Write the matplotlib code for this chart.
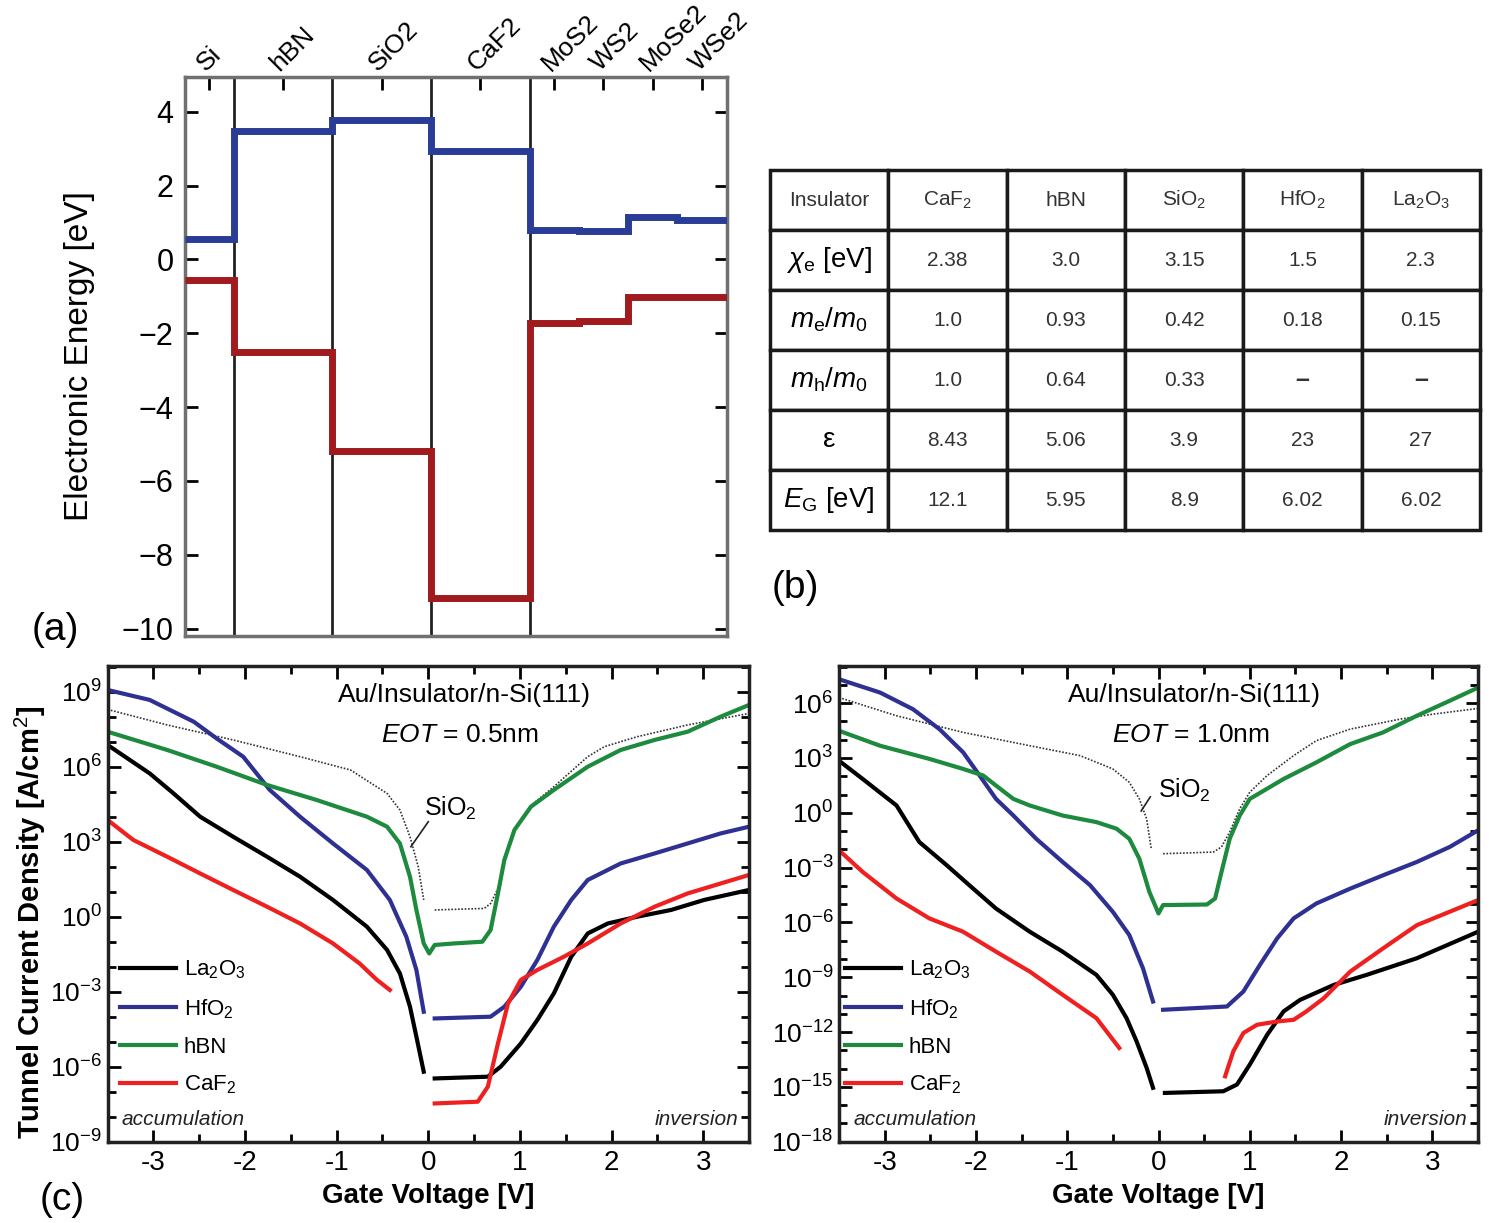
import numpy as np
import matplotlib
matplotlib.use('Agg')
import matplotlib.pyplot as plt
import matplotlib.transforms as mtransforms
from matplotlib.ticker import FixedLocator, NullFormatter, FuncFormatter

plt.rcParams['font.family'] = ['Liberation Sans', 'DejaVu Sans']
plt.rcParams['mathtext.fontset'] = 'custom'
plt.rcParams['mathtext.rm'] = 'Liberation Sans'
plt.rcParams['mathtext.it'] = 'Liberation Sans:italic'
plt.rcParams['mathtext.bf'] = 'Liberation Sans:bold'

# ---- (a) band alignment ----
layers = ['Si', 'hBN', 'SiO2', 'CaF2', 'MoS2', 'WS2', 'MoSe2', 'WSe2']
layer_edges = [0, 1, 3, 5, 7, 8, 9, 10, 11]
cb = [0.55, 3.48, 3.77, 2.93, 0.79, 0.77, 1.15, 1.06]
vb = [-0.56, -2.50, -5.20, -9.16, -1.71, -1.66, -1.03, -1.01]

# ---- (b) table ----
tbl_cols = ['Insulator', 'CaF$_2$', 'hBN', 'SiO$_2$', 'HfO$_2$', 'La$_2$O$_3$']
tbl_rows = [r'$\chi_\mathrm{e}$ [eV]', r'$m_\mathrm{e}/m_0$', r'$m_\mathrm{h}/m_0$',
            'ε', r'$E_\mathrm{G}$ [eV]']
chi_e = ['2.38', '3.0', '3.15', '1.5', '2.3']
me_m0 = ['1.0', '0.93', '0.42', '0.18', '0.15']
mh_m0 = ['1.0', '0.64', '0.33', '–', '–']
eps = ['8.43', '5.06', '3.9', '23', '27']
eg = ['12.1', '5.95', '8.9', '6.02', '6.02']

# ---- (c) tunnel current, log10(J) vs gate voltage ----
nan = np.nan
# EOT = 0.5 nm
v05_la = [-3.5, -3.04, -2.78, -2.49, -2.13, -1.76, -1.4, -1.04, -0.67, -0.45, -0.31, -0.2, -0.13, -0.05, nan,
          0.07, 0.65, 0.79, 1.01, 1.19, 1.37, 1.56, 1.74, 1.96, 2.28, 2.65, 3.01, 3.5]
j05_la = [6.87, 5.73, 4.93, 4.0, 3.2, 2.4, 1.6, 0.67, -0.4, -1.33, -2.27, -3.6, -4.8, -6.2, nan,
          -6.47, -6.4, -6.0, -5.07, -4.13, -3.07, -1.6, -0.67, -0.27, 0.0, 0.27, 0.67, 1.07]
v05_hf = [-3.5, -3.04, -2.56, -2.31, -2.02, -1.73, -1.4, -1.04, -0.67, -0.42, -0.24, -0.13, -0.05, nan,
          0.07, 0.68, 0.83, 1.01, 1.19, 1.37, 1.56, 1.74, 2.1, 2.47, 2.83, 3.19, 3.5]
j05_hf = [9.07, 8.67, 7.8, 7.13, 6.4, 5.07, 4.0, 2.93, 1.87, 0.67, -0.8, -2.13, -3.8, nan,
          -4.07, -4.0, -3.6, -2.8, -1.73, -0.4, 0.67, 1.47, 2.13, 2.53, 2.93, 3.33, 3.6]
v05_bn = [-3.5, -2.85, -2.31, -1.76, -1.22, -0.67, -0.45, -0.31, -0.2, -0.13, -0.05, 0.01, 0.07, 0.28,
          0.59, 0.68, 0.76, 0.83, 0.94, 1.12, 1.37, 1.74, 2.1, 2.47, 2.83, 3.19, 3.5]
j05_bn = [7.4, 6.67, 6.0, 5.27, 4.67, 4.0, 3.6, 2.93, 1.6, 0.27, -1.07, -1.47, -1.13, -1.07,
          -1.0, -0.53, 0.93, 2.27, 3.47, 4.4, 5.07, 6.0, 6.67, 7.07, 7.4, 8.0, 8.47]
v05_ca = [-3.5, -3.22, -2.85, -2.49, -2.13, -1.76, -1.4, -1.04, -0.75, -0.56, -0.42, nan,
          0.07, 0.54, 0.65, 0.76, 0.87, 1.01, 1.19, 1.48, 1.74, 2.1, 2.47, 2.83, 3.5]
j05_ca = [3.87, 3.07, 2.4, 1.73, 1.07, 0.4, -0.27, -1.07, -1.87, -2.53, -2.93, nan,
          -7.47, -7.4, -6.8, -5.07, -3.47, -2.53, -2.13, -1.6, -1.07, -0.27, 0.4, 0.93, 1.67]
v05_si = [-3.5, -2.85, -2.13, -1.4, -0.85, -0.45, -0.31, -0.2, -0.11, -0.05, nan,
          0.07, 0.61, 0.68, 0.77, 0.87, 0.98, 1.12, 1.37, 1.74, 1.92, 2.28, 2.83, 3.5]
j05_si = [8.29, 7.67, 7.07, 6.4, 5.87, 4.93, 4.27, 3.2, 2.0, 0.67, nan,
          0.27, 0.33, 0.53, 1.2, 2.8, 3.7, 4.45, 5.2, 6.4, 6.8, 7.2, 7.67, 8.13]

# EOT = 1.0 nm
v10_la = [-3.5, -3.24, -2.87, -2.62, -2.32, -2.03, -1.78, -1.41, -1.05, -0.68, -0.5, -0.35, -0.24, -0.13, -0.06, nan,
          0.07, 0.71, 0.86, 1.0, 1.19, 1.37, 1.55, 1.92, 2.28, 2.83, 3.5]
j10_la = [2.85, 1.85, 0.4, -1.6, -2.87, -4.15, -5.24, -6.51, -7.6, -8.87, -9.96, -11.24, -12.51, -13.96, -15.05, nan,
          -15.33, -15.24, -14.87, -13.78, -12.15, -10.87, -10.24, -9.42, -8.87, -7.96, -6.51]
v10_hf = [-3.5, -3.05, -2.69, -2.4, -2.14, -1.96, -1.78, -1.59, -1.34, -1.05, -0.75, -0.5, -0.32, -0.17, -0.06, nan,
          0.05, 0.75, 0.93, 1.11, 1.3, 1.48, 1.73, 2.1, 2.46, 2.83, 3.19, 3.5]
j10_hf = [7.31, 6.58, 5.67, 4.58, 3.31, 2.04, 0.76, -0.15, -1.42, -2.69, -3.96, -5.42, -6.69, -8.51, -10.33, nan,
          -10.78, -10.6, -9.78, -8.33, -6.87, -5.78, -4.96, -4.15, -3.42, -2.69, -1.87, -0.96]
v10_bn = [-3.5, -3.05, -2.51, -2.14, -1.92, -1.78, -1.59, -1.41, -1.05, -0.68, -0.46, -0.32, -0.21, -0.1, 0.0,
          0.05, 0.53, 0.62, 0.69, 0.78, 0.89, 1.0, 1.37, 1.73, 2.1, 2.46, 2.83, 3.19, 3.5]
j10_bn = [4.49, 3.67, 2.95, 2.4, 2.04, 1.49, 0.76, 0.4, -0.15, -0.51, -0.87, -1.42, -2.51, -4.33, -5.51,
          -5.05, -5.02, -4.69, -3.24, -1.42, -0.15, 0.76, 1.85, 2.76, 3.76, 4.4, 5.31, 6.13, 6.85]
v10_ca = [-3.5, -3.24, -2.87, -2.51, -2.14, -1.78, -1.41, -1.05, -0.68, -0.43, nan,
          0.73, 0.82, 0.93, 1.08, 1.3, 1.48, 1.62, 1.81, 2.1, 2.46, 2.83, 3.5]
j10_ca = [-2.05, -3.24, -4.69, -5.78, -6.51, -7.6, -8.69, -9.96, -11.24, -12.87, nan,
          -14.42, -13.05, -12.05, -11.6, -11.42, -11.33, -10.87, -10.15, -8.69, -7.42, -6.15, -4.78]
v10_si = [-3.5, -2.87, -2.14, -1.41, -0.86, -0.5, -0.32, -0.21, -0.13, -0.08, nan,
          0.05, 0.6, 0.69, 0.78, 0.89, 1.0, 1.19, 1.48, 1.73, 2.1, 2.65, 3.01, 3.5]
j10_si = [6.31, 5.31, 4.4, 3.67, 3.13, 2.4, 1.67, 0.76, -0.33, -1.96, nan,
          -2.24, -2.15, -1.87, -1.05, 0.22, 1.13, 2.04, 3.13, 3.95, 4.58, 5.13, 5.4, 5.71]

c_blue = '#2e3192'
c_green = '#1d8a3e'
c_red = '#ee2020'

W, H = 1496, 1223
fig = plt.figure(figsize=(W / 100, H / 100), dpi=100)


def box(x0, y0, x1, y1):
    return [x0 / W, 1 - y1 / H, (x1 - x0) / W, (y1 - y0) / H]


# ================= (a) =================
ax = fig.add_axes(box(184.5, 76.7, 726.7, 636))
for x in layer_edges[1:5]:
    ax.axvline(x, color='#222222', lw=2.0, zorder=1)
ax.stairs(cb, layer_edges, baseline=None, color='#2a3d96', lw=5, zorder=3)
ax.stairs(vb, layer_edges, baseline=None, color='#a01a1e', lw=5, zorder=3)
ax.set_xlim(layer_edges[0], layer_edges[-1])
ax.set_ylim(-10.2, 4.95)
centers = [(a + b) / 2 for a, b in zip(layer_edges[:-1], layer_edges[1:])]
ax.xaxis.tick_top()
ax.set_xticks(centers)
ax.set_xticklabels(layers, rotation=45, ha='left', va='bottom', rotation_mode='anchor', fontsize=19)
shift = mtransforms.ScaledTranslation(-9 / 100, -2 / 100, fig.dpi_scale_trans)
for lab in ax.get_xticklabels():
    lab.set_transform(lab.get_transform() + shift)
ax.set_yticks([4, 2, 0, -2, -4, -6, -8, -10])
ax.tick_params(axis='y', direction='in', left=True, right=True, length=9, width=2, labelsize=22, pad=8)
ax.tick_params(axis='x', direction='in', top=True, bottom=False, length=9, width=2, pad=1)
for s in ax.spines.values():
    s.set_color('#707070')
    s.set_linewidth(2.5)
ax.set_ylabel('Electronic Energy [eV]', fontsize=24)
ax.yaxis.set_label_coords(-0.165, 0.5)

# ================= (b) =================
axt = fig.add_axes(box(770, 170, 1480, 530))
axt.axis('off')
cell_text = [tbl_cols] + [[lab] + vals for lab, vals in zip(tbl_rows, [chi_e, me_m0, mh_m0, eps, eg])]
tb = axt.table(cellText=cell_text, bbox=[0, 0, 1, 1], cellLoc='center')
tb.auto_set_font_size(False)
for (r, c), cell in tb.get_celld().items():
    cell.set_linewidth(2.5)
    cell.set_edgecolor('#1a1a1a')
    txt = cell.get_text()
    if r == 0:
        txt.set_fontsize(15)
        txt.set_color('#333333')
    elif c == 0:
        txt.set_fontsize(20)
    else:
        txt.set_fontsize(15)
        txt.set_color('#333333')
        if txt.get_text() == '–':
            txt.set_fontweight('bold')
            txt.set_fontsize(18)

# ================= (c) =================
curves05 = [(v05_la, j05_la, 'k', 'La$_2$O$_3$'), (v05_hf, j05_hf, c_blue, 'HfO$_2$'),
            (v05_bn, j05_bn, c_green, 'hBN'), (v05_ca, j05_ca, c_red, 'CaF$_2$')]
curves10 = [(v10_la, j10_la, 'k', 'La$_2$O$_3$'), (v10_hf, j10_hf, c_blue, 'HfO$_2$'),
            (v10_bn, j10_bn, c_green, 'hBN'), (v10_ca, j10_ca, c_red, 'CaF$_2$')]


def log_panel(rect, curves, sio2, ylim, eot, sio2_txt, sio2_line, leg_x):
    ax = fig.add_axes(rect)
    ax.set_yscale('log')
    ax.plot(sio2[0], 10 ** np.array(sio2[1]), color='#333333', lw=1.2, ls=(0, (1, 1)))
    for v, j, col, lab in curves:
        ax.plot(v, 10 ** np.array(j), color=col, lw=3, label=lab)
    ax.set_xlim(-3.5, 3.5)
    ax.set_ylim(10.0 ** ylim[0], 10.0 ** ylim[1])
    ax.set_xticks([-3, -2, -1, 0, 1, 2, 3])
    ax.set_xticklabels(['-3', '-2', '-1', '0', '1', '2', '3'])
    ax.xaxis.set_minor_locator(FixedLocator(np.arange(-3.5, 3.6, 0.5)))
    major = [10.0 ** k for k in range(int(np.ceil(ylim[0] / 3) * 3), int(ylim[1]) + 1, 3)]
    ax.yaxis.set_major_locator(FixedLocator(major))
    ax.yaxis.set_major_formatter(FuncFormatter(lambda y, p: r'$10^{%d}$' % round(np.log10(y))))
    ax.yaxis.set_minor_locator(FixedLocator([10.0 ** k for k in range(ylim[0], int(ylim[1]) + 1)]))
    ax.yaxis.set_minor_formatter(NullFormatter())
    ax.tick_params(which='both', direction='in', top=True, right=True, width=2)
    ax.tick_params(which='major', length=9, labelsize=20, pad=6)
    ax.tick_params(axis='y', which='major', labelsize=19, pad=4)
    ax.tick_params(which='minor', length=6)
    for s in ax.spines.values():
        s.set_linewidth(2.5)
        s.set_color('#222222')
    ax.set_xlabel('Gate Voltage [V]', fontsize=20, fontweight='bold')
    ax.xaxis.set_label_coords(0.5, -0.087)
    ax.text(0.557, 0.938, 'Au/Insulator/n-Si(111)', transform=ax.transAxes, fontsize=19,
            ha='center', va='center')
    ax.text(0.55, 0.854, r'$EOT$ = ' + eot, transform=ax.transAxes, fontsize=19,
            ha='center', va='center')
    ax.text(sio2_txt[0], 10 ** sio2_txt[1], 'SiO$_2$', fontsize=18, ha='center', va='center')
    ax.plot(sio2_line[0], 10 ** np.array(sio2_line[1]), color='#222222', lw=1.2)
    ax.text(0.022, 0.046, 'accumulation', transform=ax.transAxes, fontsize=15,
            style='italic', ha='left', va='center', color='#222222')
    ax.text(0.983, 0.046, 'inversion', transform=ax.transAxes, fontsize=15,
            style='italic', ha='right', va='center', color='#222222')
    ax.legend(loc='upper left', bbox_to_anchor=(leg_x, 0.385), frameon=False, fontsize=16,
              handlelength=2.5, handletextpad=0.35, labelspacing=0.72, borderaxespad=0,
              borderpad=0)
    return ax


axl = log_panel(box(107.6, 665.7, 749, 1141.7), curves05, (v05_si, j05_si), (-9, 10.04),
                '0.5nm', (0.24, 4.35), ([0.0, -0.19], [3.8, 2.8]), 0.02)
axl.set_ylabel('Tunnel Current Density [A/cm$^2$]', fontsize=21, fontweight='bold')
axl.yaxis.set_label_coords(-0.093, 0.46)

axr = log_panel(box(839, 665.7, 1478, 1141.7), curves10, (v10_si, j10_si), (-18, 8.05),
                '1.0nm', (0.28, 1.2), ([-0.09, -0.19], [0.87, 0.1]), 0.01)

fig.text(55 / W, 1 - 630 / H, '(a)', fontsize=28, ha='center', va='center')
fig.text(795 / W, 1 - 588 / H, '(b)', fontsize=28, ha='center', va='center')
fig.text(62 / W, 1 - 1200 / H, '(c)', fontsize=28, ha='center', va='center')

fig.savefig('out.png', dpi=100)
